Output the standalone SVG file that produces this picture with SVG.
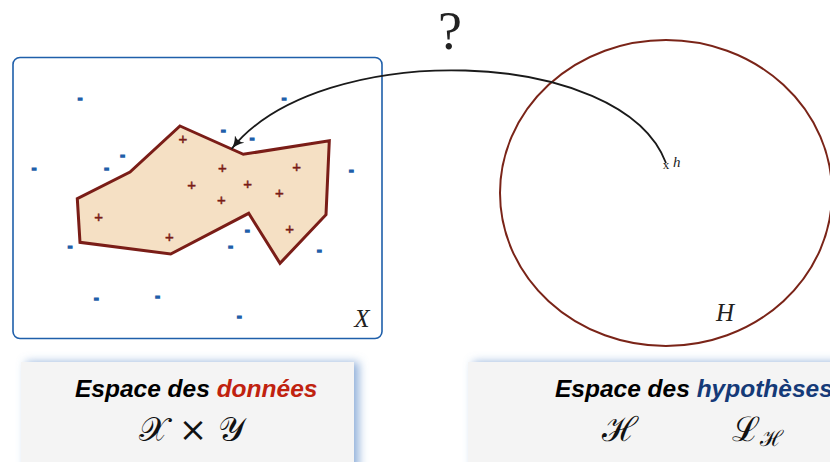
<svg xmlns="http://www.w3.org/2000/svg" width="830" height="462" viewBox="0 0 830 462">
<style>
.minus{font-family:"Liberation Sans",Arial,sans-serif;font-weight:bold;font-size:14px;fill:#1f5faa;stroke:#1f5faa;stroke-width:1.4;text-anchor:middle}
.plus{font-family:"Liberation Sans",Arial,sans-serif;font-size:15px;fill:#7a1d17;stroke:#7a1d17;stroke-width:0.5;text-anchor:middle}
.serif{font-family:"Liberation Serif","DejaVu Serif",serif;fill:#222}
.title{font-family:"Liberation Sans",Arial,sans-serif;font-weight:bold;font-style:italic;font-size:24.5px;fill:#000}
.math{font-family:"DejaVu Serif","Liberation Serif",serif;fill:#111}
.panel{fill:#f4f4f4}
</style>
<defs>
<filter id="glow" x="-20%" y="-40%" width="140%" height="180%">
<feFlood flood-color="#6f98cf" flood-opacity="0.75"/>
<feComposite in2="SourceAlpha" operator="in"/>
<feGaussianBlur stdDeviation="5"/>
<feOffset dx="5" dy="0" result="sh"/>
<feMerge><feMergeNode in="sh"/><feMergeNode in="SourceGraphic"/></feMerge>
</filter>
<marker id="arr" viewBox="0 0 14 12" refX="13" refY="6" markerWidth="14" markerHeight="12" markerUnits="userSpaceOnUse" orient="auto">
<path d="M0,0 Q6,5 13,6 Q6,7 0,12 Q4,6 0,0 Z" fill="#1a1a1a"/>
</marker>
</defs>

<g id="data-space">
<rect x="13" y="57.5" width="369" height="281" rx="7" fill="#fff" stroke="#1f5faa" stroke-width="1.6"/>
<polygon points="180,126 243.3,154.3 329.3,140.7 326,214.7 280,263.3 248.7,213.3 170.7,254 80,242.3 77.3,198.7 130,172" fill="#f5e0c4" stroke="#7a1d17" stroke-width="3" stroke-linejoin="miter"/>
<g id="plus-points">
<text class="plus" x="183" y="143.6">+</text>
<text class="plus" x="222.3" y="172.6">+</text>
<text class="plus" x="296.7" y="171.6">+</text>
<text class="plus" x="191.7" y="190">+</text>
<text class="plus" x="247.7" y="189">+</text>
<text class="plus" x="221.3" y="204.6">+</text>
<text class="plus" x="279.3" y="198">+</text>
<text class="plus" x="98.7" y="221.6">+</text>
<text class="plus" x="169.3" y="241.6">+</text>
<text class="plus" x="289.7" y="233.6">+</text>
</g>
<g id="minus-points">
<text class="minus" x="80" y="102.5">-</text>
<text class="minus" x="284" y="102.5">-</text>
<text class="minus" x="223.3" y="135.2">-</text>
<text class="minus" x="252" y="142.5">-</text>
<text class="minus" x="122.7" y="159.9">-</text>
<text class="minus" x="34" y="172.5">-</text>
<text class="minus" x="106.7" y="173.2">-</text>
<text class="minus" x="351.3" y="174.5">-</text>
<text class="minus" x="247.3" y="234.5">-</text>
<text class="minus" x="70" y="250.5">-</text>
<text class="minus" x="230.7" y="250.5">-</text>
<text class="minus" x="319.3" y="254.5">-</text>
<text class="minus" x="96.3" y="303.2">-</text>
<text class="minus" x="157.7" y="300.5">-</text>
<text class="minus" x="239.3" y="321.2">-</text>
</g>
<text class="serif" x="362" y="327" font-size="25" font-style="italic" text-anchor="middle">X</text>
</g>

<g id="hypothesis-space">
<ellipse cx="666" cy="193" rx="166" ry="153" fill="none" stroke="#7a2418" stroke-width="2"/>
<text class="serif" x="666" y="169" font-size="13" text-anchor="middle">x</text>
<text class="serif" x="673" y="167" font-size="15" font-style="italic">h</text>
<text class="serif" x="725" y="321" font-size="25" font-style="italic" text-anchor="middle">H</text>
</g>

<g id="connectors">
<path d="M666,163 C622,46 320,38 231.5,149" fill="none" stroke="#1a1a1a" stroke-width="1.8" marker-end="url(#arr)"/>
</g>
<text class="serif" x="450" y="49" font-size="54" text-anchor="middle">?</text>

<g id="panel-data">
<rect class="panel" x="21" y="362" width="333" height="110" filter="url(#glow)"/>
<text class="title" x="75" y="397">Espace des <tspan fill="#c0220f">données</tspan></text>
<text class="math" x="192" y="441" font-size="34" text-anchor="middle">𝒳 × 𝒴</text>
</g>

<g id="panel-hypotheses">
<rect class="panel" x="468" y="362" width="380" height="110" filter="url(#glow)"/>
<text class="title" x="555" y="397">Espace des <tspan fill="#153a78">hypothèses</tspan></text>
<text class="math" x="620" y="441" font-size="34" text-anchor="middle">ℋ</text>
<text class="math" x="757" y="441" font-size="34" text-anchor="middle">ℒ<tspan font-size="22" dy="5">ℋ</tspan></text>
</g>
</svg>
